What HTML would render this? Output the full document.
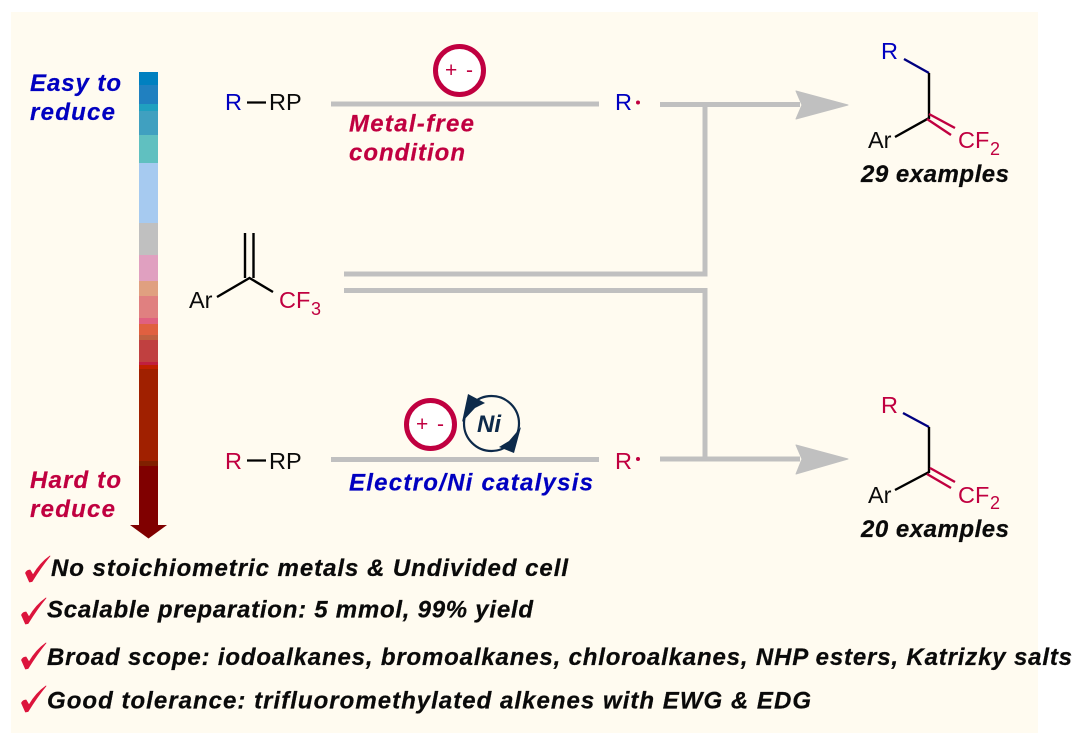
<!DOCTYPE html>
<html><head><meta charset="utf-8"><style>
html,body{margin:0;padding:0;background:#fff}
svg{display:block}
text{font-family:"Liberation Sans",sans-serif}
.b{font-weight:bold;font-style:italic;font-size:24px;stroke-width:.2px}
.l{font-weight:bold;font-style:italic;font-size:24px;fill:#0a0a0a;stroke:#0a0a0a;stroke-width:.25px}
.c{font-size:23.5px}
.s{font-size:18px}
.p{font-size:21px;fill:#c00040}
</style></head><body>
<svg width="1080" height="743" viewBox="0 0 1080 743" xmlns="http://www.w3.org/2000/svg">
<rect width="1080" height="743" fill="#fff"/>
<rect x="11" y="12" width="1027" height="721" fill="#fffbf0"/>

<!-- gradient bar -->
<g shape-rendering="crispEdges">
<rect x="139" y="72" width="19" height="13" fill="#0080c0"/>
<rect x="139" y="85" width="19" height="19" fill="#2080c0"/>
<rect x="139" y="104" width="19" height="7" fill="#20a0c0"/>
<rect x="139" y="111" width="19" height="24" fill="#40a0c0"/>
<rect x="139" y="135" width="19" height="28" fill="#60c0c0"/>
<rect x="139" y="163" width="19" height="60" fill="#a6caf0"/>
<rect x="139" y="223" width="19" height="32" fill="#c0c0c0"/>
<rect x="139" y="255" width="19" height="26" fill="#e0a0c0"/>
<rect x="139" y="281" width="19" height="15" fill="#e0a080"/>
<rect x="139" y="296" width="19" height="22" fill="#e08080"/>
<rect x="139" y="318" width="19" height="6" fill="#e06080"/>
<rect x="139" y="324" width="19" height="11" fill="#e06040"/>
<rect x="139" y="335" width="19" height="5" fill="#c06040"/>
<rect x="139" y="340" width="19" height="22" fill="#c04040"/>
<rect x="139" y="362" width="19" height="3" fill="#c02040"/>
<rect x="139" y="365" width="19" height="4" fill="#c02000"/>
<rect x="139" y="369" width="19" height="92" fill="#a02000"/>
<rect x="139" y="461" width="19" height="5" fill="#802000"/>
<rect x="139" y="466" width="19" height="59" fill="#800000"/>
</g>
<polygon points="130,525 167,525 148.500,538.500" fill="#800000"/>

<text class="b" x="30" y="91" fill="#0000c0" stroke="#0000c0" textLength="91">Easy to</text>
<text class="b" x="30" y="120" fill="#0000c0" stroke="#0000c0" textLength="85">reduce</text>
<text class="b" x="30" y="488" fill="#c00040" stroke="#c00040" textLength="91">Hard to</text>
<text class="b" x="30" y="517" fill="#c00040" stroke="#c00040" textLength="85">reduce</text>

<!-- grey connectors -->
<g stroke="#c0c0c0" stroke-width="5" fill="none">
<path d="M331 104H599"/>
<path d="M660 104.500H800"/>
<path d="M705 104V274H344"/>
<path d="M344 290.500H705V458"/>
<path d="M331 459.500H599"/>
<path d="M660 459H800"/>
</g>
<polygon points="796,91 848,105 796,119 802,105" fill="#c0c0c0" stroke="#c0c0c0" stroke-width="1" stroke-linejoin="round"/>
<polygon points="796,445 848,459 796,474 802,459" fill="#c0c0c0" stroke="#c0c0c0" stroke-width="1" stroke-linejoin="round"/>

<!-- top reagents -->
<text class="c" x="225" y="110" fill="#0000c0">R</text>
<path d="M247 102.500H266" stroke="#000" stroke-width="2.200"/>
<text class="c" x="269" y="110" fill="#0a0a0a">RP</text>
<text class="c" x="615" y="110" fill="#0000c0">R</text>
<circle cx="638" cy="102.500" r="2" fill="#c00040"/>

<!-- electrode top -->
<circle cx="459.500" cy="70.500" r="24" fill="#fff" stroke="#c00040" stroke-width="5"/>
<text class="p" x="445" y="77">+</text>
<text class="p" x="466" y="77">-</text>
<text class="b" x="349" y="131.500" fill="#c00040" stroke="#c00040" textLength="125">Metal-free</text>
<text class="b" x="349" y="160.500" fill="#c00040" stroke="#c00040" textLength="116">condition</text>

<!-- substrate -->
<path d="M245 233V278M253.500 233V278" stroke="#000" stroke-width="2.400" fill="none"/>
<path d="M217 297L249.500 278L273 292" stroke="#000" stroke-width="2.400" fill="none"/>
<text class="c" x="189" y="308" fill="#0a0a0a">Ar</text>
<text class="c" x="279" y="308" fill="#c00040">CF</text>
<text class="s" x="311" y="315" fill="#c00040">3</text>

<!-- bottom reagents -->
<text class="c" x="225" y="469" fill="#c00040">R</text>
<path d="M247 460.500H266" stroke="#000" stroke-width="2.200"/>
<text class="c" x="269" y="469" fill="#0a0a0a">RP</text>
<text class="c" x="615" y="469" fill="#c00040">R</text>
<circle cx="638" cy="459" r="2" fill="#c00040"/>

<!-- electrode bottom -->
<circle cx="430.500" cy="424.500" r="24" fill="#fff" stroke="#c00040" stroke-width="5"/>
<text class="p" x="416" y="431">+</text>
<text class="p" x="437" y="431">-</text>

<!-- Ni cycle -->
<circle cx="491.500" cy="423.500" r="27.500" fill="none" stroke="#0d2a4a" stroke-width="2.200"/>
<polygon points="468,394 485,403 475,408 462,422" fill="#0d2a4a"/>
<polygon points="521,427 514,453 499,447 509,441" fill="#0d2a4a"/>
<text x="477" y="432" font-size="24" font-weight="bold" font-style="italic" fill="#0d2a4a">Ni</text>

<text class="b" x="349" y="490.500" fill="#0000c0" stroke="#0000c0" textLength="244">Electro/Ni catalysis</text>

<!-- top product -->
<text class="c" x="881" y="59" fill="#0000c0">R</text>
<path d="M904 59L929 73" stroke="#000080" stroke-width="2.400" fill="none"/>
<path d="M929 73V118L895 137" stroke="#000" stroke-width="2.400" fill="none"/>
<path d="M929 114L955 128M927 119L951 135" stroke="#c00040" stroke-width="2.400" fill="none"/>
<text class="c" x="868" y="148" fill="#0a0a0a">Ar</text>
<text class="c" x="958" y="148" fill="#c00040">CF</text>
<text class="s" x="990" y="155" fill="#c00040">2</text>
<text class="l" x="861" y="182" textLength="148">29 examples</text>

<!-- bottom product -->
<text class="c" x="881" y="413" fill="#c00040">R</text>
<path d="M903 413L929 427" stroke="#000080" stroke-width="2.400" fill="none"/>
<path d="M929 427V472L895 490" stroke="#000" stroke-width="2.400" fill="none"/>
<path d="M930 468L955 482M927 474L951 488" stroke="#c00040" stroke-width="2.400" fill="none"/>
<text class="c" x="868" y="503" fill="#0a0a0a">Ar</text>
<text class="c" x="958" y="503" fill="#c00040">CF</text>
<text class="s" x="990" y="509" fill="#c00040">2</text>
<text class="l" x="861" y="537" textLength="148">20 examples</text>

<!-- checks -->
<g fill="#dc143c" stroke="#dc143c" stroke-width=".8" stroke-linejoin="round">
<path transform="translate(4,-42)" d="M21.500 615Q23 612 26 612L29 617Q36 605 46 598Q37 609 28 623.500L25.500 624Z"/>
<path d="M21.500 615Q23 612 26 612L29 617Q36 605 46 598Q37 609 28 623.500L25.500 624Z"/>
<path transform="translate(0,45)" d="M21.500 615Q23 612 26 612L29 617Q36 605 46 598Q37 609 28 623.500L25.500 624Z"/>
<path transform="translate(0,88)" d="M21.500 615Q23 612 26 612L29 617Q36 605 46 598Q37 609 28 623.500L25.500 624Z"/>
</g>
<text class="l" x="51" y="576" textLength="517">No stoichiometric metals &amp; Undivided cell</text>
<text class="l" x="47" y="617.500" textLength="486">Scalable preparation: 5 mmol, 99% yield</text>
<text class="l" x="47" y="665" textLength="1025">Broad scope: iodoalkanes, bromoalkanes, chloroalkanes, NHP esters, Katrizky salts</text>
<text class="l" x="47" y="708.500" textLength="764">Good tolerance: trifluoromethylated alkenes with EWG &amp; EDG</text>
</svg>
</body></html>
